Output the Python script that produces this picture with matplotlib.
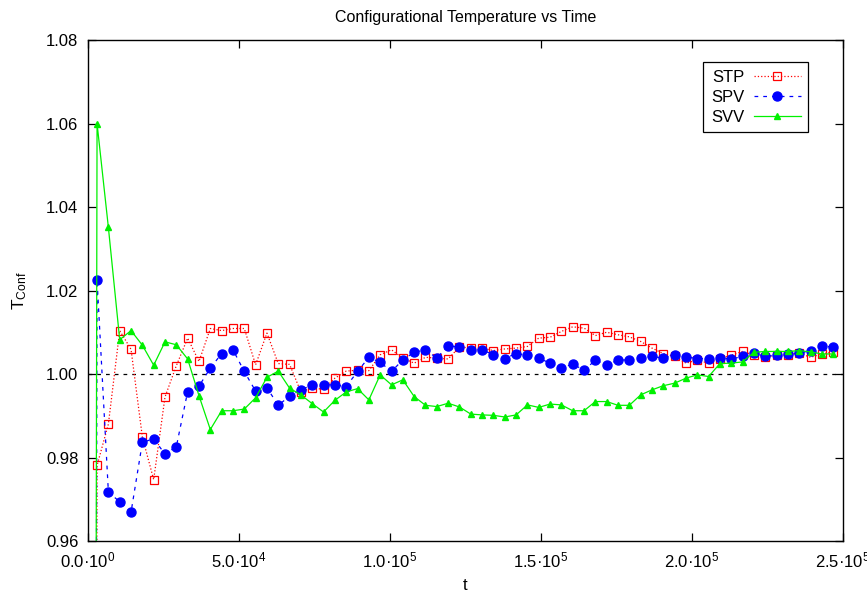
import numpy as np
import matplotlib
matplotlib.use('Agg')
import matplotlib.pyplot as plt
from matplotlib.ticker import FixedLocator, FuncFormatter

plt.rcParams['font.family'] = ['Liberation Sans', 'DejaVu Sans']
plt.rcParams['mathtext.fontset'] = 'custom'
plt.rcParams['mathtext.rm'] = 'Liberation Sans'
plt.rcParams['mathtext.it'] = 'Liberation Sans:italic'

# sampling times (first sample at t=0 where T_conf=0, off-scale)
t = np.concatenate([[0], np.arange(3000, 3000 + 66 * 3750, 3750)])

stp = [0.0,
       0.9781, 0.9880, 1.0104, 1.0059, 0.9849, 0.9747, 0.9945, 1.0020, 1.0086, 1.0030,
       1.0109, 1.0104, 1.0109, 1.0109, 1.0022, 1.0098, 1.0025, 1.0023, 0.9957, 0.9967,
       0.9963, 0.9990, 1.0007, 1.0009, 1.0008, 1.0046, 1.0058, 1.0038, 1.0026, 1.0040,
       1.0038, 1.0036, 1.0065, 1.0062, 1.0062, 1.0056, 1.0060, 1.0062, 1.0066, 1.0086,
       1.0088, 1.0102, 1.0113, 1.0110, 1.0092, 1.0100, 1.0094, 1.0089, 1.0078, 1.0062,
       1.0049, 1.0042, 1.0026, 1.0033, 1.0026, 1.0037, 1.0045, 1.0054, 1.0045, 1.0040,
       1.0045, 1.0046, 1.0050, 1.0040, 1.0048, 1.0053]

spv = [0.0,
       1.0225, 0.9717, 0.9694, 0.9669, 0.9836, 0.9845, 0.9808, 0.9826, 0.9958, 0.9971,
       1.0014, 1.0049, 1.0058, 1.0006, 0.9959, 0.9967, 0.9925, 0.9947, 0.9962, 0.9974,
       0.9974, 0.9974, 0.9970, 1.0006, 1.0040, 1.0028, 1.0006, 1.0034, 1.0052, 1.0058,
       1.0038, 1.0068, 1.0064, 1.0058, 1.0058, 1.0046, 1.0037, 1.0049, 1.0045, 1.0038,
       1.0026, 1.0014, 1.0024, 1.0009, 1.0033, 1.0022, 1.0033, 1.0034, 1.0038, 1.0042,
       1.0038, 1.0046, 1.0041, 1.0037, 1.0037, 1.0038, 1.0036, 1.0042, 1.0050, 1.0042,
       1.0046, 1.0048, 1.0050, 1.0056, 1.0066, 1.0065]

svv = [0.0,
       1.0600, 1.0351, 1.0082, 1.0104, 1.0069, 1.0021, 1.0077, 1.0070, 1.0036, 0.9948,
       0.9867, 0.9912, 0.9912, 0.9916, 0.9943, 0.9992, 1.0007, 0.9966, 0.9950, 0.9929,
       0.9909, 0.9937, 0.9957, 0.9965, 0.9938, 0.9998, 0.9974, 0.9986, 0.9946, 0.9925,
       0.9922, 0.9930, 0.9921, 0.9904, 0.9902, 0.9901, 0.9897, 0.9902, 0.9926, 0.9920,
       0.9928, 0.9926, 0.9912, 0.9912, 0.9934, 0.9934, 0.9925, 0.9925, 0.9950, 0.9962,
       0.9972, 0.9978, 0.9990, 0.9998, 0.9994, 1.0025, 1.0026, 1.0029, 1.0052, 1.0054,
       1.0054, 1.0054, 1.0056, 1.0053, 1.0048, 1.0048]

x_ticks = [0, 50000, 100000, 150000, 200000, 250000]
x_tick_labels = ['0.0·10$^{0}$', '5.0·10$^{4}$', '1.0·10$^{5}$', '1.5·10$^{5}$',
                 '2.0·10$^{5}$', '2.5·10$^{5}$']
y_ticks = [0.96, 0.98, 1.00, 1.02, 1.04, 1.06, 1.08]

fig = plt.figure(figsize=(8.67, 5.92), dpi=100)
ax = fig.add_axes([88 / 867, 1 - 541 / 592, (843 - 88) / 867, (541 - 40) / 592])

ax.plot(t, stp, color='#ff0000', linestyle=':', linewidth=0.9, marker='s', markersize=6,
        markerfacecolor='none', markeredgecolor='#ff0000', markeredgewidth=0.9, label='STP')
ax.plot(t, spv, color='#0000ff', linestyle=(0, (3, 4)), linewidth=0.9, marker='o', markersize=6.5,
        markerfacecolor='#0000ff', markeredgecolor='#0000ff', label='SPV')
ax.plot(t, svv, color='#00f000', linestyle='-', linewidth=0.9, marker='^', markersize=5,
        markerfacecolor='#00f000', markeredgecolor='#00f000', label='SVV')
ax.axhline(1.0, color='black', linestyle=(0, (3, 4)), linewidth=0.9, zorder=1)

ax.set_xlim(0, 250000)
ax.set_ylim(0.96, 1.08)
ax.xaxis.set_major_locator(FixedLocator(x_ticks))
ax.set_xticklabels(x_tick_labels)
ax.yaxis.set_major_locator(FixedLocator(y_ticks))
ax.yaxis.set_major_formatter(FuncFormatter(lambda v, p: f'{v:.2f}'))
ax.tick_params(direction='in', length=6, width=0.9, top=True, right=True, labelsize=12, pad=7)
for s in ax.spines.values():
    s.set_linewidth(1.0)

ax.set_title('Configurational Temperature vs Time', fontsize=11.5, pad=13)
ax.set_xlabel('t', fontsize=12, labelpad=5)
ax.set_ylabel(r'T$_{\mathrm{Conf}}$', fontsize=12.5, labelpad=12)

leg = ax.legend(loc='upper right', bbox_to_anchor=(0.954, 0.956), borderaxespad=0, markerfirst=False,
                fancybox=False, edgecolor='black', framealpha=1, fontsize=12, handlelength=2.8,
                borderpad=0.45, labelspacing=0.3, handletextpad=0.6)
leg.get_frame().set_linewidth(0.9)

fig.savefig('out.png', dpi=100)
